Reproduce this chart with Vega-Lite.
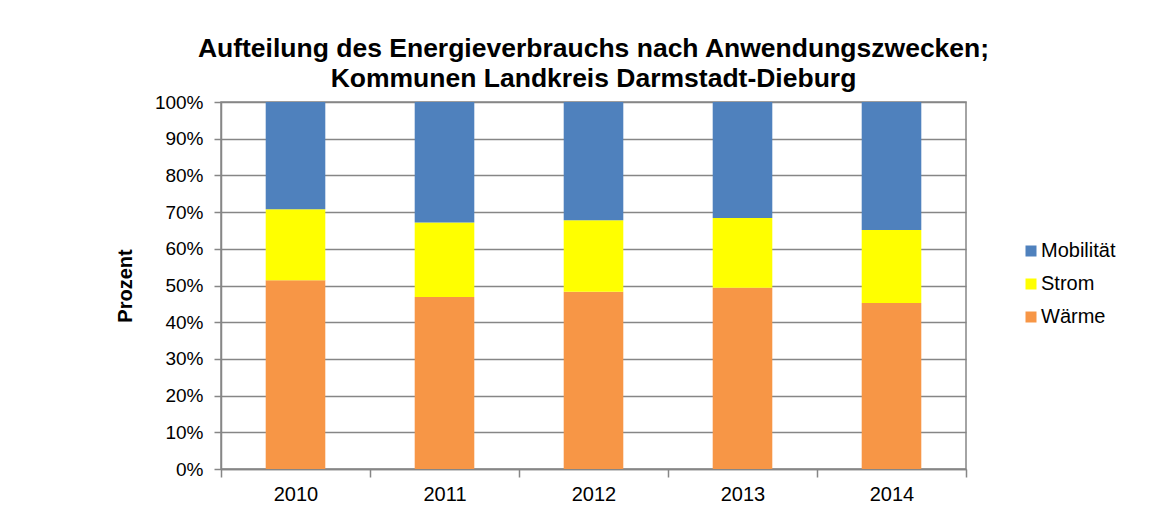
{
  "$schema": "https://vega.github.io/schema/vega-lite/v6.json",
  "autosize": {"type": "none"},
  "padding": {"left": 221, "top": 102, "right": 210, "bottom": 41},
  "width": 745,
  "height": 367,
  "background": "white",
  "title": {
    "text": ["Aufteilung des Energieverbrauchs nach Anwendungszwecken;", "Kommunen Landkreis Darmstadt-Dieburg"],
    "font": "Liberation Sans",
    "fontSize": 26.5,
    "fontWeight": "bold",
    "color": "#000000",
    "lineHeight": 30,
    "offset": 1,
    "anchor": "middle"
  },
  "data": {
    "values": [
      {"Jahr": "2010", "Anwendung": "Wärme", "Prozent": 51.4},
      {"Jahr": "2010", "Anwendung": "Strom", "Prozent": 19.4},
      {"Jahr": "2010", "Anwendung": "Mobilität", "Prozent": 29.2},
      {"Jahr": "2011", "Anwendung": "Wärme", "Prozent": 46.9},
      {"Jahr": "2011", "Anwendung": "Strom", "Prozent": 20.3},
      {"Jahr": "2011", "Anwendung": "Mobilität", "Prozent": 32.8},
      {"Jahr": "2012", "Anwendung": "Wärme", "Prozent": 48.3},
      {"Jahr": "2012", "Anwendung": "Strom", "Prozent": 19.5},
      {"Jahr": "2012", "Anwendung": "Mobilität", "Prozent": 32.2},
      {"Jahr": "2013", "Anwendung": "Wärme", "Prozent": 49.4},
      {"Jahr": "2013", "Anwendung": "Strom", "Prozent": 19.0},
      {"Jahr": "2013", "Anwendung": "Mobilität", "Prozent": 31.6},
      {"Jahr": "2014", "Anwendung": "Wärme", "Prozent": 45.2},
      {"Jahr": "2014", "Anwendung": "Strom", "Prozent": 19.9},
      {"Jahr": "2014", "Anwendung": "Mobilität", "Prozent": 34.9}
    ]
  },
  "mark": {"type": "bar", "width": {"band": 0.4}},
  "encoding": {
    "x": {
      "field": "Jahr",
      "type": "ordinal",
      "scale": {"paddingInner": 0, "paddingOuter": 0},
      "axis": {
        "title": null,
        "labelAngle": 0,
        "tickBand": "extent",
        "grid": false,
        "domainColor": "#868686",
        "domainWidth": 1.5,
        "tickColor": "#868686",
        "tickWidth": 1.5,
        "tickSize": 8,
        "labelPadding": 7,
        "labelFont": "Liberation Sans",
        "labelFontSize": 20,
        "labelColor": "#000000"
      }
    },
    "y": {
      "field": "Prozent",
      "type": "quantitative",
      "stack": "zero",
      "scale": {"domain": [0, 100], "nice": false},
      "axis": {
        "title": "Prozent",
        "titleFont": "Liberation Sans",
        "titleFontSize": 20,
        "titleFontWeight": "bold",
        "titleColor": "#000000",
        "titleX": -86,
        "values": [0, 10, 20, 30, 40, 50, 60, 70, 80, 90, 100],
        "labelExpr": "datum.value + '%'",
        "labelFont": "Liberation Sans",
        "labelFontSize": 19,
        "labelColor": "#000000",
        "labelPadding": 11,
        "tickSize": 7,
        "tickColor": "#868686",
        "tickWidth": 1.5,
        "domainColor": "#868686",
        "domainWidth": 1.5,
        "grid": true,
        "gridColor": "#868686",
        "gridWidth": 1.5
      }
    },
    "color": {
      "field": "Anwendung",
      "type": "nominal",
      "scale": {
        "domain": ["Mobilität", "Strom", "Wärme"],
        "range": ["#4F81BD", "#FFFF00", "#F79646"]
      },
      "legend": {
        "title": null,
        "orient": "none",
        "legendX": 800,
        "legendY": 139,
        "symbolType": "square",
        "symbolSize": 121,
        "symbolStrokeWidth": 0,
        "labelFont": "Liberation Sans",
        "labelFontSize": 20,
        "labelColor": "#000000",
        "labelOffset": 0,
        "rowPadding": 13
      }
    },
    "order": {"field": "Anwendung", "sort": "descending"}
  },
  "config": {
    "view": {"stroke": "#868686", "strokeWidth": 1.5},
    "axis": {"zindex": 0}
  }
}
